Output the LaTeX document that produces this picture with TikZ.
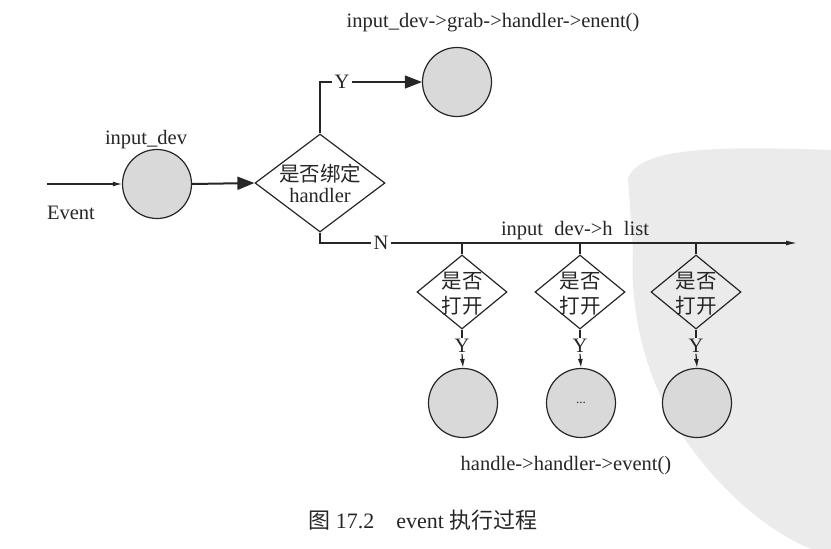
\documentclass[tikz,border=0pt]{standalone}
\usepackage{fontspec}
\setmainfont{Liberation Serif}
\newfontfamily\cjk{Noto Sans CJK SC}
\usetikzlibrary{shapes.geometric,arrows.meta}
\begin{document}
\begin{tikzpicture}[x=1pt,y=-1pt,
  font=\fontsize{20.5}{24}\selectfont,
  line/.style={line width=1.2pt,draw=black!85},
  ball/.style={circle,draw=black!85,line width=1.2pt,fill=black!15,minimum size=69pt,inner sep=0pt},
  bigdia/.style={diamond,draw=black!85,line width=1.2pt,minimum width=130pt,minimum height=98pt,inner sep=0pt},
  smalldia/.style={diamond,draw=black!85,line width=1.2pt,minimum width=90pt,minimum height=74pt,inner sep=0pt},
  txt/.style={inner sep=0pt,text=black!85},
  lab/.style={inner sep=2.5pt,text=black!85},
  bigtip/.style={-{Triangle[length=17pt,width=13pt]}},
  smalltip/.style={-{Latex[length=9pt,width=5pt]}}
]
\useasboundingbox (0,0) rectangle (831,549);
% faint watermark region of the scan
\fill[black!8] (628,178) .. controls (640,150) and (700,145) .. (831,150) -- (831,549) -- (812,549)
  .. controls (760,530) and (700,470) .. (670,415) .. controls (640,360) and (630,300) .. (633,250) -- cycle;

% nodes
\node[ball] (dev) at (157,184) {};
\node[txt,anchor=base] (devlab) at (146,144) {input\_dev};
\node[txt,anchor=base] (evlab) at (71,219) {Event};
\coordinate (evstart) at (47,184);

\node[bigdia] (d0) at (320,183) {};
\node[txt,align=center] (d0t) at (320,183) {{\cjk 是否绑定}\\[-3pt]handler};

\node[lab] (Y0) at (342,82) {Y};
\node[ball] (grab) at (457,82) {};
\node[txt,anchor=base] (grablab) at (493,27) {input\_dev->grab->handler->enent()};

\node[lab] (N0) at (381,243) {N};
\coordinate (hend) at (797,243);
\node[txt,anchor=base] (hlab) at (575,235) {input\hspace{0.55em}dev->h\hspace{0.55em}list};

\foreach \i/\x in {1/462,2/580,3/696}{
  \coordinate (b\i) at (\x,243);
  \node[smalldia] (s\i) at (\x,292) {};
  \node[txt,align=center] (s\i t) at (\x,294) {\cjk 是否\\[1pt]\cjk 打开};
  \node[lab,inner sep=1pt] (y\i) at (\x,346) {Y};
  \node[ball] (c\i) at (\x+1,403) {};
}
\node[txt] (dots) at (c2) {\fontsize{13}{15}\selectfont ...};
\node[txt,anchor=base] (hdl) at (566,470) {handle->handler->event()};

\node[txt,anchor=base] (cap) at (423,528) {\fontsize{22}{25}\selectfont {\cjk 图} 17.2\hspace{1em}event {\cjk 执行过程}};

% connectors
\draw[line,smalltip] (evstart) -- (dev.west);
\draw[line,line width=2pt,bigtip] (dev.east) -- (d0.west);
\draw[line] (d0.north) |- (Y0.west);
\draw[line,bigtip] (Y0.east) -- (grab.west);
\draw[line] (d0.south) |- (N0.west);
\draw[line,-{Latex[length=11pt,width=5pt]}] (N0.east) -- (hend);
\foreach \i in {1,2,3}{
  \draw[line] (b\i) -- (s\i.north);
  \draw[line] (s\i.south) -- (y\i.north);
  \draw[line,smalltip] (y\i.south) -- (c\i.north);
}
\end{tikzpicture}
\end{document}
